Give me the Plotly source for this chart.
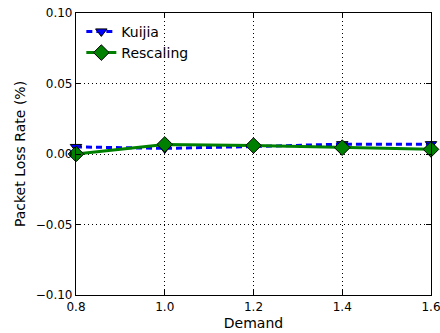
import plotly.graph_objects as go

demand = [0.8, 1.0, 1.2, 1.4, 1.6]
kuijia = [0.005, 0.004, 0.0053, 0.007, 0.007]
rescaling = [0.0, 0.0068, 0.006, 0.0045, 0.0033]
xticks = [0.8, 1.0, 1.2, 1.4, 1.6]
yticks = [-0.10, -0.05, 0.00, 0.05, 0.10]

fig = go.Figure()
fig.add_trace(go.Scatter(
    x=demand, y=kuijia, name="Kuijia", mode="lines+markers",
    line=dict(color="blue", width=3, dash="6px,4px"),
    marker=dict(symbol="triangle-down", size=10, color="blue", line=dict(color="black", width=1)),
    cliponaxis=False))
fig.add_trace(go.Scatter(
    x=demand, y=rescaling, name="Rescaling", mode="lines+markers",
    line=dict(color="green", width=3),
    marker=dict(symbol="diamond", size=12, color="green", line=dict(color="black", width=1)),
    cliponaxis=False))

axis_common = dict(
    showline=True, linecolor="black", linewidth=1.2, mirror="ticks",
    ticks="inside", ticklen=5, tickcolor="black",
    showgrid=True, gridcolor="black", griddash="1px,3px", gridwidth=1,
    zeroline=False, automargin=False, ticklabeloverflow="allow",
    tickfont=dict(family="DejaVu Sans", size=12, color="black"),
)
fig.update_xaxes(range=[0.8, 1.6], tickvals=xticks, ticktext=[f"{v:.1f}" for v in xticks],
                 title=dict(text="Demand", font=dict(family="DejaVu Sans", size=14, color="black"), standoff=5),
                 **axis_common)
fig.update_yaxes(range=[-0.10, 0.10], tickvals=yticks, ticktext=[f"{v:.2f}".replace("-", "\u2212") for v in yticks],
                 title=dict(text="Packet Loss Rate (%)", font=dict(family="DejaVu Sans", size=14, color="black"), standoff=6),
                 **axis_common)
fig.update_layout(
    width=440, height=333,
    margin=dict(l=76, r=9, t=13, b=38),
    plot_bgcolor="white", paper_bgcolor="white",
    legend=dict(x=0.015, y=0.99, xanchor="left", yanchor="top",
                font=dict(family="DejaVu Sans", size=14, color="black"),
                bgcolor="rgba(255,255,255,0)", borderwidth=0, tracegroupgap=0),
    showlegend=True,
)
fig.write_html("out.html")
